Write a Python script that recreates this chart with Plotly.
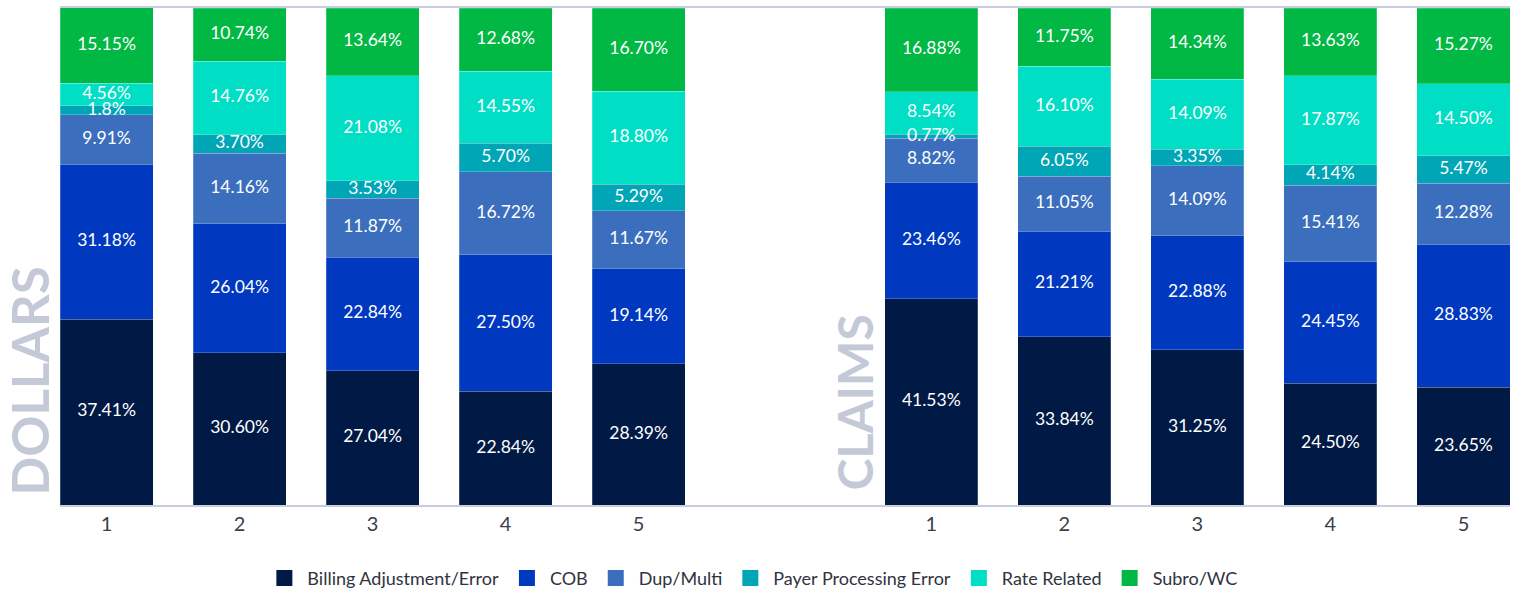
import plotly.graph_objects as go

groups = ["DOLLARS", "CLAIMS"]
bar_labels = ["1", "2", "3", "4", "5"]
series_names = ["Billing Adjustment/Error", "COB", "Dup/Multi",
                "Payer Processing Error", "Rate Related", "Subro/WC"]
colors = ["#001a45", "#0039bf", "#3b6fbd", "#00a5b6", "#00dec6", "#00b843"]

dollars = {
    "Billing Adjustment/Error": [37.41, 30.60, 27.04, 22.84, 28.39],
    "COB": [31.18, 26.04, 22.84, 27.50, 19.14],
    "Dup/Multi": [9.91, 14.16, 11.87, 16.72, 11.67],
    "Payer Processing Error": [1.8, 3.70, 3.53, 5.70, 5.29],
    "Rate Related": [4.56, 14.76, 21.08, 14.55, 18.80],
    "Subro/WC": [15.15, 10.74, 13.64, 12.68, 16.70],
}
dollar_text = {
    "Payer Processing Error": ["1.8%", "3.70%", "3.53%", "5.70%", "5.29%"],
}
claims = {
    "Billing Adjustment/Error": [41.53, 33.84, 31.25, 24.50, 23.65],
    "COB": [23.46, 21.21, 22.88, 24.45, 28.83],
    "Dup/Multi": [8.82, 11.05, 14.09, 15.41, 12.28],
    "Payer Processing Error": [0.77, 6.05, 3.35, 4.14, 5.47],
    "Rate Related": [8.54, 16.10, 14.09, 17.87, 14.50],
    "Subro/WC": [16.88, 11.75, 14.34, 13.63, 15.27],
}

group_offset = 6.2
x_dollars = [i for i in range(len(bar_labels))]
x_claims = [i + group_offset for i in range(len(bar_labels))]
x_all = x_dollars + x_claims

fig = go.Figure()
base = [0.0] * len(x_all)
lab_x, lab_y, lab_t = [], [], []
for name, col in zip(series_names, colors):
    dv = dollars[name]
    cv = claims[name]
    vals = dv + cv
    dtxt = dollar_text.get(name, ["%.2f%%" % v for v in dv])
    ctxt = ["%.2f%%" % v for v in cv]
    fig.add_trace(go.Bar(
        x=x_all, y=vals, name=name,
        marker=dict(color=col, line=dict(width=0.6, color="rgba(255,255,255,0.35)")),
        hoverinfo="skip", showlegend=False,
    ))
    # legend entry with larger square symbol
    fig.add_trace(go.Scatter(
        x=[None], y=[None], mode="markers", name=name,
        marker=dict(symbol="square", size=17, color=col),
        hoverinfo="skip",
    ))
    for i, v in enumerate(vals):
        lab_x.append(x_all[i])
        lab_y.append(base[i] + v / 2)
        lab_t.append((dtxt + ctxt)[i])
        base[i] += v

fig.add_trace(go.Scatter(
    x=lab_x, y=lab_y, text=lab_t, mode="text",
    textposition="middle center",
    textfont=dict(family="Lato", size=17.5, color="white"),
    hoverinfo="skip", showlegend=False, cliponaxis=False,
))

fig.update_layout(
    barmode="stack",
    bargap=0.3,
    width=1522, height=593,
    margin=dict(l=60, r=12, t=6, b=88),
    plot_bgcolor="white",
    paper_bgcolor="white",
    font=dict(family="Lato", color="#333a45"),
    showlegend=True,
    legend=dict(
        orientation="h",
        xref="container", yref="container",
        x=0.494, xanchor="center",
        y=0.025, yanchor="middle",
        font=dict(family="Lato", size=18, color="#2f3440"),
        itemsizing="trace",
        itemwidth=36,
        traceorder="normal",
    ),
    xaxis=dict(
        range=[-0.35, x_claims[-1] + 0.35],
        tickvals=x_all,
        ticktext=bar_labels + bar_labels,
        showline=True, mirror=True,
        linecolor="#c9cede", linewidth=2,
        showgrid=False, zeroline=False,
        ticks="",
        tickfont=dict(family="Lato", size=20, color="#3a3f4a"),
        fixedrange=True,
    ),
    yaxis=dict(
        range=[0, 100],
        showticklabels=False, showgrid=False, zeroline=False,
        showline=False,
    ),
)

fig.add_annotation(
    text="<b>DOLLARS</b>", textangle=-90,
    xref="paper", yref="paper", x=-0.0207, y=0.2505,
    xanchor="center", yanchor="middle", showarrow=False,
    font=dict(family="Lato", size=51, color="#c4c9d7"),
)
fig.add_annotation(
    text="<b>CLAIMS</b>", textangle=-90,
    xref="paper", yref="paper", x=0.548, y=0.206,
    xanchor="center", yanchor="middle", showarrow=False,
    font=dict(family="Lato", size=48, color="#c4c9d7"),
)

fig.write_html("out.html", config={"displayModeBar": False},
               post_script="document.body.style.margin='0';")
